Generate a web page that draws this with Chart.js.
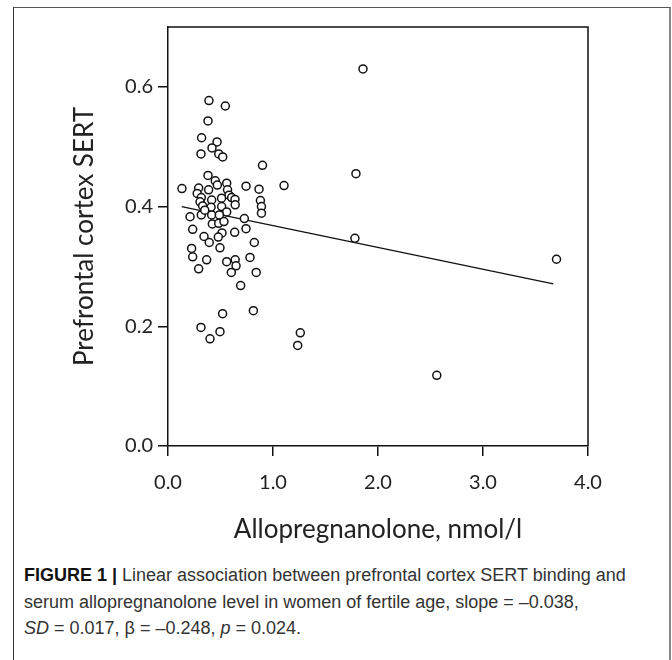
<!DOCTYPE html>
<html>
<head>
<meta charset="utf-8">
<script src="https://cdn.jsdelivr.net/npm/chart.js@4"></script>
<style>
  html, body { margin: 0; padding: 0; background: #fff; }
  body { width: 672px; height: 660px; position: relative; overflow: hidden; }
  #frame { position: absolute; left: 13px; top: 7px; width: 658px; height: 700px;
           border-left: 1.5px solid #333; border-top: 1.5px solid #555; border-right: 2px solid #888; box-sizing: border-box; }
  #chart { position: absolute; left: 0; top: 0; }
  #caption { position: absolute; left: 24px; top: 562px; width: 646px; white-space: nowrap;
             font-family: "Liberation Sans", Arial, sans-serif; font-size: 18px; line-height: 26.5px; color: #333; }
  #caption b { font-weight: bold; color: #111; }
</style>
</head>
<body>
<div id="frame"></div>
<canvas id="chart" width="672" height="545"></canvas>
<div id="caption"><b>FIGURE 1 |</b> Linear association between prefrontal cortex SERT binding and<br>serum allopregnanolone level in women of fertile age, slope = –0.038,<br><i>SD</i> = 0.017, β = –0.248, <i>p</i> = 0.024.</div>
<script>
// Data
const alloX = [0.39, 0.546, 0.381, 0.32, 0.467, 0.419, 0.314, 0.483, 0.521, 0.90,
  0.381, 0.133, 0.292, 0.45, 0.47, 0.559, 0.743, 0.867, 1.105, 0.387,
  0.567, 0.278, 0.581, 0.317, 0.51, 0.606, 0.638, 0.88, 0.305, 0.416,
  0.64, 0.89, 0.89, 0.33, 0.41, 0.511, 0.317, 0.416, 0.559, 0.489,
  0.21, 0.727, 0.422, 0.483, 0.533, 0.235, 0.743, 0.635, 0.514, 0.343,
  0.479, 0.393, 0.822, 0.495, 0.225, 0.235, 0.368, 0.559, 0.64, 0.781,
  0.648, 0.292, 0.603, 0.84, 0.692, 0.52, 0.813, 0.314, 0.40, 0.495,
  1.26, 1.235, 2.56, 1.78, 1.79, 1.857, 3.70, 0.35];
const sertY = [0.577, 0.568, 0.543, 0.515, 0.508, 0.498, 0.488, 0.488, 0.483, 0.469,
  0.452, 0.430, 0.431, 0.443, 0.436, 0.439, 0.434, 0.429, 0.435, 0.428,
  0.428, 0.422, 0.419, 0.415, 0.414, 0.415, 0.412, 0.410, 0.408, 0.411,
  0.403, 0.400, 0.389, 0.401, 0.399, 0.400, 0.386, 0.386, 0.391, 0.386,
  0.383, 0.380, 0.371, 0.372, 0.375, 0.362, 0.363, 0.357, 0.356, 0.350,
  0.349, 0.340, 0.340, 0.331, 0.330, 0.316, 0.311, 0.308, 0.311, 0.315,
  0.301, 0.296, 0.290, 0.290, 0.268, 0.221, 0.226, 0.198, 0.179, 0.191,
  0.189, 0.168, 0.118, 0.347, 0.455, 0.630, 0.312, 0.394];
// Regression line end points
const fitX = [0.13, 3.67];
const fitY = [0.400, 0.271];
// Tick labels
const xTicks = [0, 1, 2, 3, 4];
const yTicks = [0, 0.2, 0.4, 0.6];
const xTitle = "Allopregnanolone, nmol/l";
const yTitle = "Prefrontal cortex SERT";

const points = alloX.map((x, i) => ({ x: x, y: sertY[i] }));
const fitLine = fitX.map((x, i) => ({ x: x, y: fitY[i] }));

const boxPlugin = {
  id: 'box',
  afterDatasetsDraw(chart) {
    const a = chart.chartArea, c = chart.ctx;
    c.save();
    c.strokeStyle = '#111';
    c.lineWidth = 1.5;
    c.beginPath();
    c.moveTo(a.left, a.top); c.lineTo(a.right, a.top); c.lineTo(a.right, a.bottom);
    c.stroke();
    c.restore();
  }
};

const tickFont = { family: 'Lato, "Open Sans", sans-serif', size: 20 };
const titleFont = { family: 'Lato, "Open Sans", sans-serif', size: 26 };

new Chart(document.getElementById('chart'), {
  data: {
    datasets: [
      { type: 'scatter', data: points, pointRadius: 4, pointHoverRadius: 4,
        pointBackgroundColor: '#fff', pointBorderColor: '#111', pointBorderWidth: 1.5, order: 1 },
      { type: 'line', data: fitLine, borderColor: '#111', borderWidth: 1.3,
        pointRadius: 0, fill: false, order: 2 }
    ]
  },
  options: {
    responsive: false,
    animation: false,
    devicePixelRatio: 1,
    layout: { padding: { top: 27, right: 84, left: 0, bottom: 0 } },
    plugins: { legend: { display: false }, tooltip: { enabled: false } },
    scales: {
      x: {
        type: 'linear', min: 0, max: 4,
        afterBuildTicks: s => { s.ticks = xTicks.map(v => ({ value: v })); },
        afterFit: s => { s.height = 99; },
        grid: { drawOnChartArea: false, drawTicks: true, tickLength: 10, color: '#111', lineWidth: 1.5 },
        border: { display: true, color: '#111', width: 1.5 },
        ticks: { color: '#222', font: tickFont, padding: 15, callback: v => Number(v).toFixed(1), maxRotation: 0 },
        title: { display: true, text: xTitle, color: '#222', font: titleFont, padding: { top: 2.5, bottom: 0 } }
      },
      y: {
        type: 'linear', min: 0, max: 0.7,
        afterBuildTicks: s => { s.ticks = yTicks.map(v => ({ value: v })); },
        afterFit: s => { s.width = 168; },
        grid: { drawOnChartArea: false, drawTicks: true, tickLength: 10, color: '#111', lineWidth: 1.5 },
        border: { display: true, color: '#111', width: 1.5 },
        ticks: { color: '#222', font: tickFont, padding: 5, callback: v => Number(v).toFixed(1) },
        title: { display: true, text: yTitle, color: '#222', font: titleFont, padding: { top: 69.5, bottom: 0 } }
      }
    }
  },
  plugins: [boxPlugin]
});
</script>
</body>
</html>
